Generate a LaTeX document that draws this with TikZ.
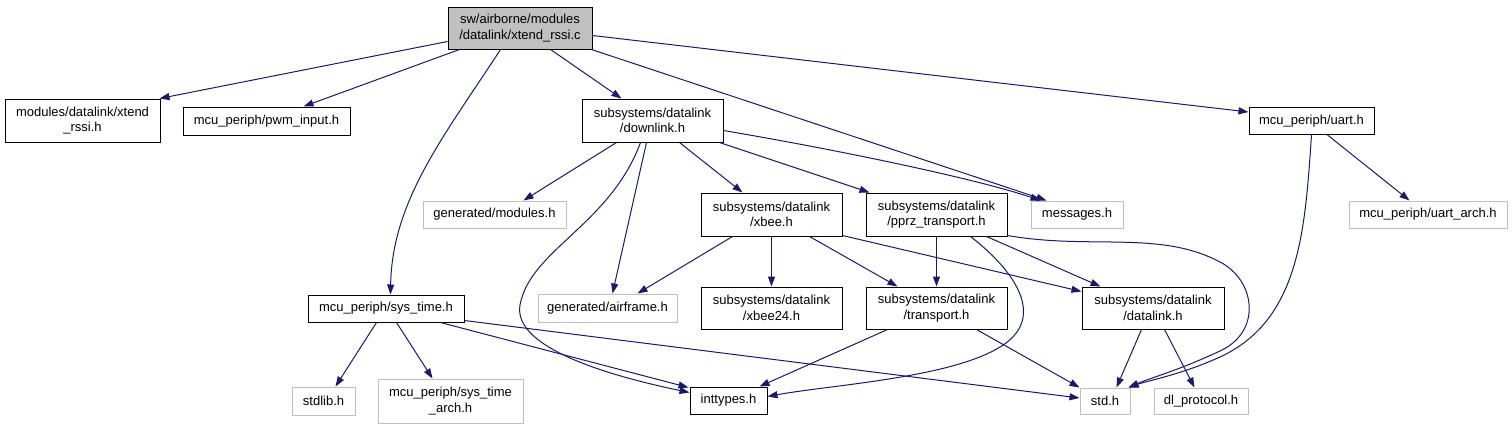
\documentclass[tikz,border=0pt]{standalone}
\usepackage{fontspec}
\setmainfont{Liberation Sans}
\usetikzlibrary{calc,arrows.meta}
\definecolor{edgeblue}{HTML}{191970}
\definecolor{lgray}{HTML}{BFBFBF}
\definecolor{mgray}{HTML}{C0C0C0}
\tikzset{
  box/.style={rectangle, inner sep=0pt, align=center, line width=1pt,
    font=\fontsize{13}{15.5}\selectfont},
  hdr/.style={box, draw=black},
  ext/.style={box, draw=lgray},
  mainbox/.style={box, draw=black, fill=mgray},
  dep/.style={draw=edgeblue, line width=1pt, -{Triangle[length=10pt,width=7pt]}}
}
\begin{document}
\begin{tikzpicture}[x=1pt,y=-1pt]
\useasboundingbox (0,0) rectangle (1512,429);
% nodes
\node[mainbox, minimum width=144pt, minimum height=42pt] (main) at (520,28) {sw/airborne/modules\\/datalink/xtend\_rssi.c};
\node[hdr, minimum width=155pt, minimum height=43pt] (xtend) at (82.5,120.5) {modules/datalink/xtend\\\_rssi.h};
\node[hdr, minimum width=167pt, minimum height=28pt] (pwm) at (266.5,121) {mcu\_periph/pwm\_input.h};
\node[hdr, minimum width=141pt, minimum height=43pt] (downlink) at (652.5,120.5) {subsystems/datalink\\/downlink.h};
\node[hdr, minimum width=125pt, minimum height=27pt] (uart) at (1311.5,121) {mcu\_periph/uart.h};
\node[ext, minimum width=143pt, minimum height=27pt] (modules) at (494.5,214.5) {generated/modules.h};
\node[hdr, minimum width=141pt, minimum height=43pt] (xbee) at (771.5,214.5) {subsystems/datalink\\/xbee.h};
\node[hdr, minimum width=141pt, minimum height=43pt] (pprz) at (936.5,214.5) {subsystems/datalink\\/pprz\_transport.h};
\node[ext, minimum width=92pt, minimum height=27pt] (messages) at (1077,214.5) {messages.h};
\node[ext, minimum width=158pt, minimum height=27pt] (uartarch) at (1428,214.5) {mcu\_periph/uart\_arch.h};
\node[ext, minimum width=139pt, minimum height=28pt] (airframe) at (607.5,308) {generated/airframe.h};
\node[hdr, minimum width=141pt, minimum height=42pt] (xbeeTF) at (771.5,308) {subsystems/datalink\\/xbee24.h};
\node[hdr, minimum width=141pt, minimum height=42pt] (transport) at (936.5,308) {subsystems/datalink\\/transport.h};
\node[hdr, minimum width=142pt, minimum height=42pt] (datalink) at (1153,308) {subsystems/datalink\\/datalink.h};
\node[hdr, minimum width=156pt, minimum height=27pt] (systime) at (386,308.5) {mcu\_periph/sys\_time.h};
\node[ext, minimum width=63pt, minimum height=28pt] (stdlib) at (323.5,401) {stdlib.h};
\node[ext, minimum width=145pt, minimum height=44pt] (stimearch) at (450.5,401) {mcu\_periph/sys\_time\\\_arch.h};
\node[hdr, minimum width=77pt, minimum height=27pt] (inttypes) at (728.5,400.5) {inttypes.h};
\node[ext, minimum width=50pt, minimum height=26pt] (std) at (1105,401) {std.h};
\node[ext, minimum width=94pt, minimum height=26pt] (dlproto) at (1201,401) {dl\_protocol.h};
% edges from main
\draw[dep] ($(main.south west)+(0,-8)$) -- ($(xtend.north east)+(-1,0)$);
\draw[dep] ($(main.south west)+(12,0)$) -- ($(pwm.north west)+(121,0)$);
\draw[dep] ($(main.south west)+(53,0)$) .. controls (445,135) and (392,200) .. ($(systime.north west)+(83,0)$);
\draw[dep] ($(main.south west)+(103,0)$) -- ($(downlink.north west)+(40,0)$);
\draw[dep] ($(main.south east)+(-1,0)$) -- ($(messages.north west)+(16,0)$);
\draw[dep] ($(main.north east)+(0,29)$) -- ($(uart.north west)+(0,5)$);
% edges from downlink
\draw[dep] ($(downlink.south west)+(35,0)$) -- ($(modules.north west)+(101,0)$);
\draw[dep] ($(downlink.south west)+(65,0)$) -- ($(airframe.north west)+(75,0)$);
\draw[dep] ($(downlink.south west)+(59,0)$) .. controls (610,225) and (530,250) .. (520,305) .. controls (512,350) and (620,378) .. ($(inttypes.west)+(0,-8)$);
\draw[dep] ($(downlink.south west)+(98,0)$) -- ($(xbee.north west)+(42,0)$);
\draw[dep] ($(downlink.south east)+(-4,0)$) -- ($(pprz.north west)+(4,0)$);
\draw[dep] ($(downlink.north east)+(0,32)$) .. controls (850,152) and (980,180) .. ($(messages.north west)+(10,0)$);
% edges from uart
\draw[dep] ($(uart.south west)+(79,0)$) -- ($(uartarch.north west)+(61,0)$);
\draw[dep] ($(uart.south west)+(63,0)$) .. controls (1305,230) and (1300,320) .. (1220,357) .. controls (1180,375) and (1150,380) .. ($(std.north east)+(-2,0)$);
% edges from xbee
\draw[dep] ($(xbee.south west)+(32,0)$) -- ($(airframe.north west)+(100,0)$);
\draw[dep] (xbee.south) -- (xbeeTF.north);
\draw[dep] ($(xbee.south west)+(109,0)$) -- ($(transport.north west)+(32,0)$);
\draw[dep] ($(xbee.south east)+(0,-1)$) -- ($(datalink.north west)+(0,5)$);
% edges from pprz
\draw[dep] (pprz.south) -- (transport.north);
\draw[dep] ($(pprz.south west)+(121,0)$) -- ($(datalink.north west)+(19,0)$);
\draw[dep] ($(pprz.south west)+(105,0)$) .. controls (1020,275) and (1045,320) .. (1000,347) .. controls (950,378) and (830,385) .. ($(inttypes.east)+(0,-4)$);
\draw[dep] ($(pprz.south east)+(0,-1)$) .. controls (1090,250) and (1160,230) .. (1220,262) .. controls (1255,280) and (1262,330) .. (1222,350) .. controls (1180,370) and (1150,378) .. ($(std.north east)+(-2,0)$);
% edges from transport
\draw[dep] ($(transport.south west)+(22,0)$) -- ($(inttypes.north west)+(70,0)$);
\draw[dep] ($(transport.south west)+(111,0)$) -- (std.north west);
% edges from datalink
\draw[dep] ($(datalink.south west)+(60,0)$) -- ($(std.north west)+(37,0)$);
\draw[dep] ($(datalink.south west)+(83,0)$) -- ($(dlproto.north west)+(41,0)$);
% edges from sys_time
\draw[dep] ($(systime.south west)+(69,0)$) -- ($(stdlib.north west)+(44,0)$);
\draw[dep] ($(systime.south west)+(89,0)$) -- ($(stimearch.north west)+(55,0)$);
\draw[dep] ($(systime.south west)+(133,0)$) -- ($(inttypes.north west)+(-1,1)$);
\draw[dep] ($(systime.south east)+(0,-2)$) -- ($(std.west)+(0,-3)$);
\end{tikzpicture}
\end{document}
